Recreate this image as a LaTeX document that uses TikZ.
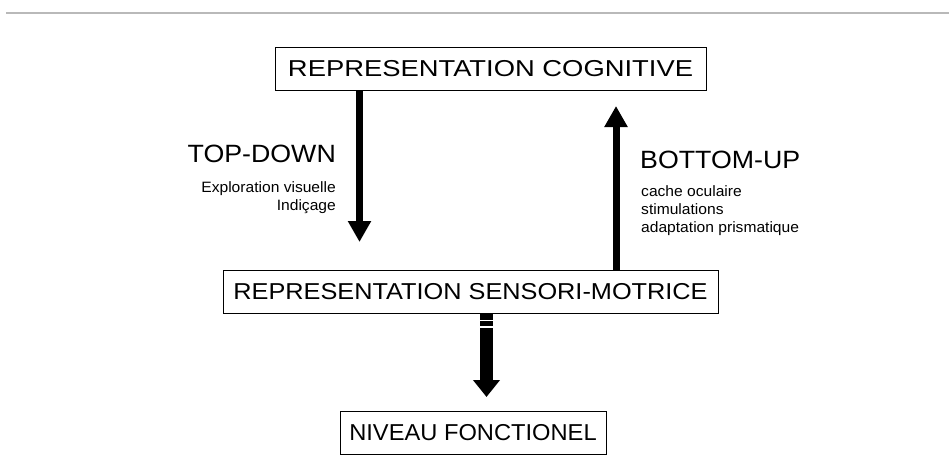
\documentclass[tikz,border=0pt]{standalone}
\usepackage{fontspec}
\setmainfont{Liberation Sans}
\newfontfamily\cogfont[FakeStretch=1.19]{Liberation Sans}
\newfontfamily\sensfont[FakeStretch=1.10]{Liberation Sans}
\newfontfamily\foncfont[FakeStretch=1.03]{Liberation Sans}
\newfontfamily\dirfont[FakeStretch=1.07]{Liberation Sans}
\newfontfamily\listfont[FakeStretch=1.04]{Liberation Sans}
\usetikzlibrary{arrows.meta}

\tikzset{
  levelbox/.style={draw, line width=1pt, inner xsep=0pt, inner ysep=0pt,
    minimum height=43pt, font=\fontsize{23}{27}\selectfont},
  flowarrow/.style={line width=7pt, -{Triangle[length=21pt,width=22pt]}},
  bigarrow/.style={line width=13pt, -{Triangle[length=17pt,width=26pt]}},
  dirtitle/.style={inner sep=0pt, font=\dirfont\fontsize{25}{30}\selectfont},
  dirlist/.style={inner sep=0pt, font=\listfont\fontsize{15}{18.3}\selectfont}
}

\begin{document}
\begin{tikzpicture}[x=1pt,y=-1pt]
\useasboundingbox (0,0) rectangle (949,474);
\draw[gray!55, line width=1.5pt] (6,13) -- (949,13);

\node[levelbox, minimum width=431pt] (cog) at (490.5,69) {\cogfont REPRESENTATION COGNITIVE};
\node[levelbox, minimum width=495pt] (sens) at (470.5,292) {\sensfont REPRESENTATION SENSORI-MOTRICE};
\node[levelbox, minimum width=266pt] (fonc) at (473,433) {\foncfont NIVEAU FONCTIONEL};

% top-down
\coordinate (tdtip) at (359.5,242);
\draw[flowarrow] (cog.south -| tdtip) -- (tdtip);
\node[dirtitle, anchor=base east] (td) at (336,162) {TOP-DOWN};
\node[dirlist, anchor=north east, align=right] (tdlist) at (336,181)
  {Exploration visuelle\\Indiçage};

% bottom-up
\coordinate (butip) at (616,106);
\draw[flowarrow] (sens.north -| butip) -- (butip);
\node[dirtitle, anchor=base west] (bu) at (640,168) {BOTTOM-UP};
\node[dirlist, anchor=north west, align=left] (bulist) at (641,185)
  {cache oculaire\\stimulations\\adaptation prismatique};

% vers le niveau fonctionnel
\coordinate (fntip) at (486.5,397);
\draw[bigarrow] (sens.south -| fntip) -- (fntip);
\draw[white, line width=1.3pt] (479,320.5) -- (494,320.5);
\draw[white, line width=1.3pt] (479,327) -- (494,327);
\end{tikzpicture}
\end{document}
